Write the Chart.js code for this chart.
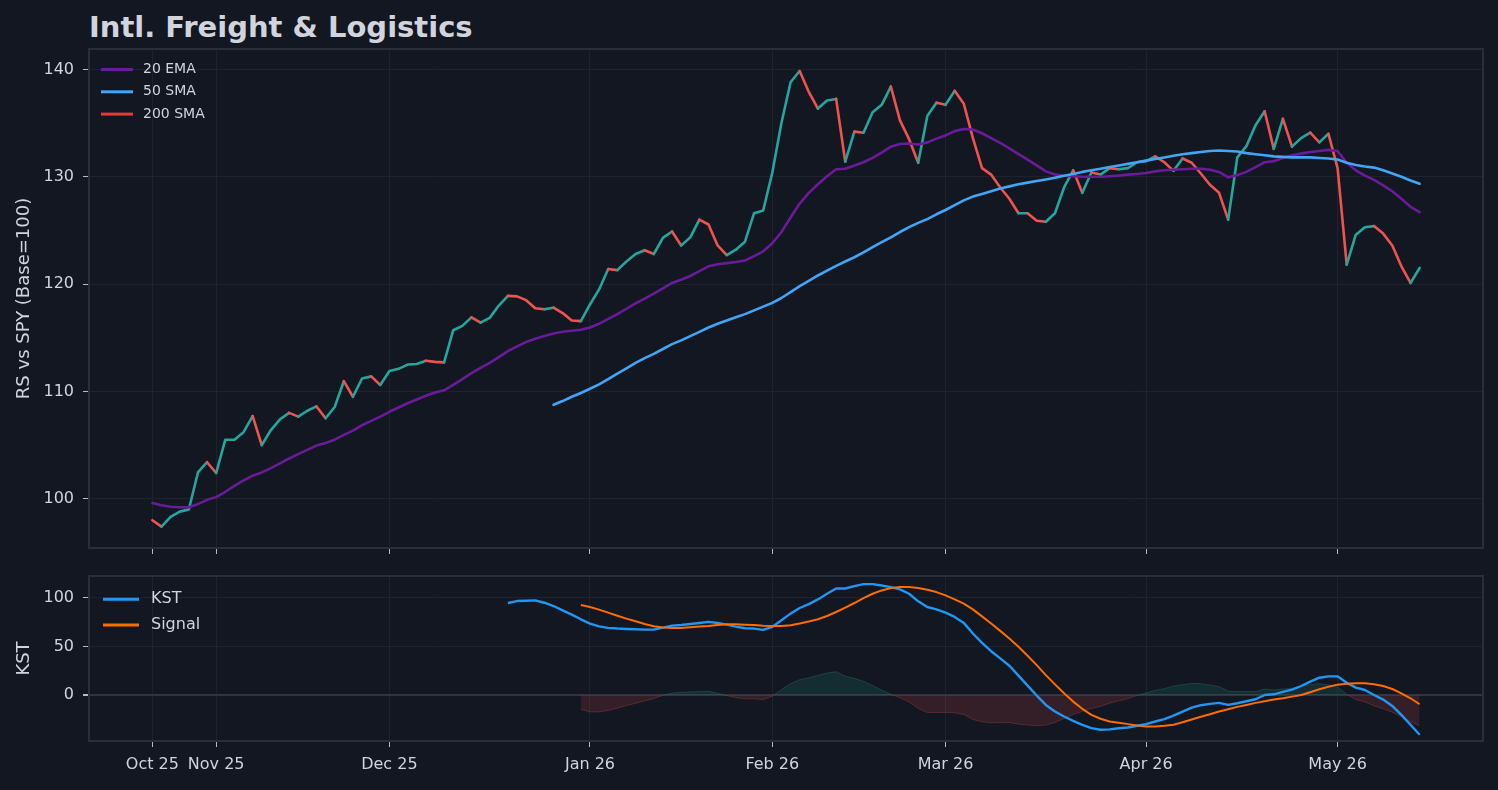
<!DOCTYPE html>
<html>
<head>
<meta charset="utf-8">
<title>Intl. Freight & Logistics</title>
<script src="https://cdn.jsdelivr.net/npm/chart.js@4.4.1/dist/chart.umd.min.js"></script>
<style>
  html, body { margin: 0; padding: 0; background: #131722; overflow: hidden; }
  #wrap { position: relative; width: 1498px; height: 790px; }
  #title { position: absolute; left: 89px; top: 13px; font: bold 29px/29px "DejaVu Sans"; color: #d1d4dc; white-space: nowrap; }
  #rsCanvas { position: absolute; left: 0; top: 0; }
  #kstCanvas { position: absolute; left: 0; top: 561px; }
</style>
</head>
<body>
<div id="wrap">
  <div id="title">Intl. Freight &amp; Logistics</div>
  <canvas id="rsCanvas" width="1498" height="561"></canvas>
  <canvas id="kstCanvas" width="1498" height="229"></canvas>
</div>
<script>
// x axis: trading-day index, one label per month start
const monthIdx = [0, 7, 26, 48, 68, 87, 109, 130];
const monthLabels = ['Oct 25', 'Nov 25', 'Dec 25', 'Jan 26', 'Feb 26', 'Mar 26', 'Apr 26', 'May 26'];
const rsTicks = [100, 110, 120, 130, 140];
const kstTicks = [0, 50, 100];

// RS vs SPY, one value per trading day
const rs = [
  98.0, 97.4, 98.3, 98.8, 99.0, 102.45, 103.4, 102.4, 105.5, 105.5,
  106.2, 107.7, 105.0, 106.4, 107.4, 108.0, 107.65, 108.2, 108.6, 107.5,
  108.55, 110.95, 109.5, 111.2, 111.4, 110.6, 111.9, 112.1, 112.5, 112.55,
  112.85, 112.75, 112.7, 115.7, 116.1, 116.9, 116.4, 116.85, 118.0, 118.9,
  118.85, 118.5, 117.75, 117.65, 117.8, 117.3, 116.6, 116.55, 118.1, 119.5,
  121.4, 121.3, 122.1, 122.8, 123.15, 122.8, 124.3, 124.9, 123.6, 124.35,
  126.0, 125.55, 123.6, 122.7, 123.2, 123.95, 126.6, 126.85, 130.4, 135.0,
  138.8, 139.85, 137.9, 136.35, 137.1, 137.25, 131.4, 134.2, 134.1, 136.0,
  136.7, 138.4, 135.25, 133.5, 131.3, 135.65, 136.9, 136.7, 138.0, 136.8,
  133.6, 130.8, 130.2, 129.0, 127.95, 126.6, 126.6, 125.9, 125.8, 126.6,
  129.0, 130.6, 128.5, 130.4, 130.2, 130.8, 130.7, 130.8, 131.35, 131.45,
  131.9, 131.35, 130.55, 131.7, 131.3, 130.3, 129.25, 128.5, 126.0, 131.8,
  132.85, 134.8, 136.1, 132.6, 135.4, 132.8, 133.6, 134.1, 133.2, 134.0,
  130.8, 121.8, 124.6, 125.3, 125.4, 124.7, 123.6, 121.65, 120.1, 121.5
];

const ema20 = [
  99.6, 99.4, 99.25, 99.2, 99.2, 99.5, 99.9, 100.15, 100.65, 101.2,
  101.7, 102.15, 102.45, 102.85, 103.3, 103.75, 104.15, 104.55, 104.95, 105.2,
  105.5, 105.95, 106.35, 106.85, 107.25, 107.65, 108.1, 108.5, 108.9, 109.25,
  109.6, 109.9, 110.1, 110.6, 111.15, 111.7, 112.2, 112.65, 113.2, 113.75,
  114.2, 114.6, 114.9, 115.15, 115.4, 115.55, 115.65, 115.75, 115.95, 116.3,
  116.75, 117.2, 117.7, 118.2, 118.65, 119.1, 119.6, 120.1, 120.4, 120.75,
  121.2, 121.65, 121.85, 121.95, 122.05, 122.2, 122.6, 123.05, 123.8, 124.85,
  126.2, 127.5, 128.5, 129.3, 130.05, 130.7, 130.75, 131.05, 131.35, 131.75,
  132.25, 132.8, 133.05, 133.1, 133.0, 133.2, 133.55, 133.85, 134.25, 134.45,
  134.4, 134.05, 133.6, 133.15, 132.65, 132.1, 131.6, 131.05, 130.5, 130.2,
  130.1, 130.05, 130.0, 130.0, 130.0, 130.05, 130.1, 130.2, 130.25, 130.35,
  130.5, 130.6, 130.65, 130.7, 130.75, 130.75, 130.65, 130.45, 129.95, 130.15,
  130.45, 130.9, 131.35, 131.45, 131.75, 132.0, 132.15, 132.3, 132.4, 132.5,
  132.4, 131.3, 130.6, 130.1, 129.7, 129.2, 128.65, 127.95, 127.2, 126.7
];

// 50 SMA begins at day 44
const sma50Start = 44;
const sma50 = [
  108.75, 109.1, 109.5, 109.85, 110.25, 110.65, 111.15, 111.65, 112.15, 112.65,
  113.1, 113.5, 113.95, 114.4, 114.75, 115.15, 115.55, 115.95, 116.3, 116.6,
  116.9, 117.2, 117.55, 117.9, 118.25, 118.7, 119.25, 119.8, 120.3, 120.8,
  121.25, 121.7, 122.1, 122.5, 122.95, 123.45, 123.9, 124.35, 124.85, 125.3,
  125.7, 126.05, 126.5, 126.9, 127.35, 127.8, 128.15, 128.4, 128.65, 128.9,
  129.1, 129.3, 129.45, 129.6, 129.75, 129.9, 130.1, 130.25, 130.45, 130.6,
  130.75, 130.9, 131.05, 131.2, 131.35, 131.5, 131.65, 131.8, 131.95, 132.1,
  132.2, 132.3, 132.4, 132.45, 132.4, 132.35, 132.2, 132.1, 132.0, 131.9,
  131.85, 131.8, 131.8, 131.8, 131.75, 131.7, 131.6, 131.3, 131.1, 130.95,
  130.85, 130.6, 130.3, 130.0, 129.65, 129.35
];

// 200 SMA: not enough history yet, legend entry only
const sma200 = [];

// KST begins at day 39, signal at day 47
const kstStart = 39;
const kst = [
  94.6, 96.6, 96.9, 97.3, 94.9, 91.5, 87.1, 82.7, 77.9, 73.5,
  70.7, 69.1, 68.4, 68.0, 67.7, 67.3, 67.3, 69.4, 71.4, 72.1,
  73.1, 74.1, 75.2, 74.1, 72.4, 70.4, 68.7, 68.4, 67.0, 70.1,
  76.9, 83.7, 89.5, 93.5, 98.3, 104.1, 109.5, 109.5, 111.9, 114.0,
  114.0, 112.6, 110.9, 108.5, 104.1, 96.3, 90.5, 88.1, 84.7, 80.3,
  74.2, 63.3, 53.7, 45.2, 37.8, 30.3, 20.1, 9.9, -0.3, -9.9,
  -16.7, -21.8, -26.2, -30.3, -33.7, -35.4, -35.0, -33.8, -33.0, -31.3,
  -29.6, -26.9, -24.5, -20.8, -16.7, -12.6, -10.2, -8.8, -7.8, -9.9,
  -8.2, -6.1, -4.1, 0.3, 1.0, 3.4, 5.8, 9.5, 14.0, 18.0,
  19.4, 19.4, 12.9, 7.8, 5.4, 0.3, -4.4, -10.9, -20.1, -30.3,
  -40.5
];
const signalStart = 47;
const signal = [
  92.5, 90.5, 87.8, 84.7, 81.6, 78.6, 75.9, 73.1, 70.7, 69.4,
  69.1, 69.1, 69.7, 70.4, 71.1, 72.1, 72.8, 72.8, 72.4, 72.1,
  71.4, 71.1, 71.1, 71.8, 73.5, 75.7, 77.9, 81.3, 85.4, 89.8,
  94.6, 99.7, 104.1, 107.5, 109.9, 110.9, 110.9, 109.9, 108.2, 105.8,
  102.4, 98.3, 93.9, 88.1, 80.9, 73.5, 66.0, 58.2, 49.7, 40.5,
  30.9, 20.7, 11.2, 2.0, -6.5, -13.9, -20.1, -24.1, -26.9, -28.2,
  -29.6, -31.0, -32.0, -32.0, -31.3, -30.3, -27.6, -24.8, -22.1, -19.4,
  -16.7, -14.3, -11.9, -9.9, -7.8, -6.1, -4.4, -3.1, -1.4, 0.3,
  3.1, 6.1, 8.8, 10.9, 11.9, 12.2, 12.2, 11.2, 9.5, 6.4,
  2.0, -3.1, -9.2
];

const UP = '#26a69a';
const DOWN = '#ef5350';
const TEXT = '#d1d4dc';
const SPINE = '#2a2e39';
const GRID = '#1e222c';

Chart.defaults.font.family = '"DejaVu Sans"';
Chart.defaults.color = TEXT;

const toPoints = (arr, start) => arr.map((v, i) => ({ x: start + i, y: v }));

// KST minus signal, only where both exist
const histPts = signal.map((s, i) => {
  const x = signalStart + i;
  return { x: x, y: kst[x - kstStart] - s };
});

const frame = {
  id: 'frame',
  afterDatasetsDraw(chart) {
    const a = chart.chartArea;
    const ctx = chart.ctx;
    ctx.save();
    ctx.strokeStyle = SPINE;
    ctx.lineWidth = 2;
    ctx.strokeRect(a.left, a.top, a.right - a.left, a.bottom - a.top);
    ctx.restore();
  }
};

const innerLegend = {
  id: 'innerLegend',
  afterDraw(chart, args, opts) {
    const a = chart.chartArea;
    const ctx = chart.ctx;
    const items = chart.data.datasets.filter(d => d.inLegend);
    ctx.save();
    ctx.font = opts.fontSize + 'px "DejaVu Sans"';
    ctx.textBaseline = 'middle';
    ctx.textAlign = 'left';
    items.forEach((d, i) => {
      const y = a.top + opts.firstY + i * opts.rowGap;
      ctx.strokeStyle = d.borderColor;
      ctx.lineWidth = opts.lineWidth;
      ctx.beginPath();
      ctx.moveTo(a.left + opts.lineX0, y);
      ctx.lineTo(a.left + opts.lineX1, y);
      ctx.stroke();
      ctx.fillStyle = TEXT;
      ctx.fillText(d.label, a.left + opts.textX, y);
    });
    ctx.restore();
  }
};

function xScale(showLabels, height) {
  return {
    type: 'linear',
    min: -6.95,
    max: 145.95,
    afterBuildTicks: axis => { axis.ticks = monthIdx.map(v => ({ value: v })); },
    afterFit: axis => { axis.height = height; },
    grid: { color: GRID, tickColor: '#b8bbc4', tickLength: 6, lineWidth: 1 },
    border: { display: false },
    ticks: {
      display: showLabels,
      autoSkip: false,
      maxRotation: 0,
      padding: 8,
      font: { size: 16 },
      color: TEXT,
      callback: v => monthLabels[monthIdx.indexOf(v)]
    }
  };
}

function yScale(min, max, tickVals, title, zeroLine) {
  return {
    min: min,
    max: max,
    afterBuildTicks: axis => { axis.ticks = tickVals.map(v => ({ value: v })); },
    afterFit: axis => {
      axis.width = 89;
      // labels sit well inside the plot, no extra room needed
      axis.paddingTop = 0;
      axis.paddingBottom = 0;
    },
    grid: {
      color: ctx => (zeroLine && ctx.tick && ctx.tick.value === 0) ? '#30343f' : GRID,
      lineWidth: ctx => (zeroLine && ctx.tick && ctx.tick.value === 0) ? 2 : 1,
      tickColor: '#b8bbc4',
      tickLength: 6
    },
    border: { display: false },
    ticks: { padding: 9, font: { size: 16 }, color: TEXT },
    title: {
      display: true,
      text: title,
      color: TEXT,
      font: { size: 18 },
      padding: { top: 14, bottom: 0 }
    }
  };
}

new Chart(document.getElementById('rsCanvas'), {
  type: 'line',
  data: {
    datasets: [
      { label: '20 EMA', data: toPoints(ema20, 0), borderColor: '#6a1b9a', borderWidth: 2.6, order: 2, inLegend: true },
      { label: '50 SMA', data: toPoints(sma50, sma50Start), borderColor: '#42a5f5', borderWidth: 2.6, order: 1, inLegend: true },
      { label: '200 SMA', data: sma200, borderColor: '#e53935', borderWidth: 2.6, order: 0, inLegend: true },
      {
        label: 'RS',
        data: toPoints(rs, 0),
        borderColor: UP,
        borderWidth: 2.6,
        order: 3,
        segment: { borderColor: c => c.p1.parsed.y >= c.p0.parsed.y ? UP : DOWN }
      }
    ]
  },
  options: {
    responsive: false,
    animation: false,
    events: [],
    elements: { point: { radius: 0 }, line: { tension: 0, borderJoinStyle: 'round', borderCapStyle: 'round' } },
    layout: { padding: { top: 49, right: 15, left: 0, bottom: 0 } },
    scales: {
      x: xScale(false, 13),
      y: yScale(95.41, 141.9, rsTicks, 'RS vs SPY (Base=100)', false)
    },
    plugins: {
      legend: { display: false },
      tooltip: { enabled: false },
      innerLegend: { fontSize: 14, firstY: 20.5, rowGap: 22.3, lineX0: 12, lineX1: 44, textX: 54, lineWidth: 3 }
    }
  },
  plugins: [frame, innerLegend]
});

new Chart(document.getElementById('kstCanvas'), {
  type: 'line',
  data: {
    datasets: [
      { label: 'KST', data: toPoints(kst, kstStart), borderColor: '#2196f3', borderWidth: 2.4, order: 1, inLegend: true },
      { label: 'Signal', data: toPoints(signal, signalStart), borderColor: '#ff6d00', borderWidth: 2, order: 0, inLegend: true },
      {
        label: 'Hist',
        data: histPts,
        borderWidth: 1,
        borderColor: 'rgba(38,166,154,0.25)',
        segment: { borderColor: c => (c.p0.parsed.y + c.p1.parsed.y) >= 0 ? 'rgba(38,166,154,0.25)' : 'rgba(239,83,80,0.25)' },
        fill: { target: 'origin', above: 'rgba(38,166,154,0.15)', below: 'rgba(239,83,80,0.15)' },
        order: 2
      }
    ]
  },
  options: {
    responsive: false,
    animation: false,
    events: [],
    elements: { point: { radius: 0 }, line: { tension: 0, borderJoinStyle: 'round' } },
    layout: { padding: { top: 15, right: 15, left: 0, bottom: 0 } },
    scales: {
      x: xScale(true, 49),
      y: yScale(-46.9, 122.3, kstTicks, 'KST', true)
    },
    plugins: {
      legend: { display: false },
      tooltip: { enabled: false },
      filler: { propagate: false },
      innerLegend: { fontSize: 16, firstY: 23.3, rowGap: 25.7, lineX0: 14, lineX1: 50, textX: 62, lineWidth: 3 }
    }
  },
  plugins: [frame, innerLegend]
});
</script>
</body>
</html>
